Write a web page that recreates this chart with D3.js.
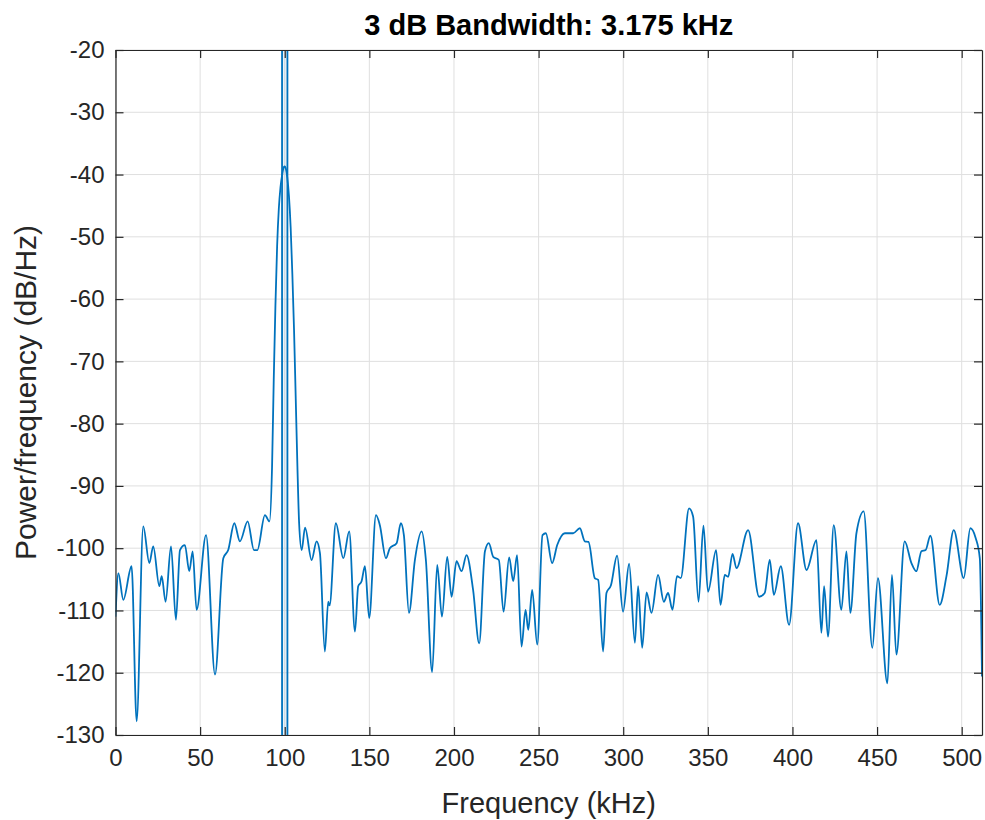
<!DOCTYPE html>
<html>
<head>
<meta charset="utf-8">
<script src="https://cdn.jsdelivr.net/npm/d3@7"></script>
<style>
  body { margin: 0; background: #fff; }
  #dataviz { width: 985px; height: 820px; }
  text { font-family: "Liberation Sans", Arial, Helvetica, sans-serif; fill: #262626; }
</style>
</head>
<body>
<div id="dataviz"></div>
<script>
// PSD estimate (kHz, dB/Hz)
var freqKHz = [
  0, 1.7, 4.6, 9.5, 12.5, 16.4, 20.0, 22.3, 25.9, 27.3, 29.6, 32.8, 35.7, 38.1, 41.0, 43.6, 45.6, 47.9,
  53.5, 58.8, 63.7, 66.6, 70.2, 73.5, 78.1, 81.8, 83.8, 88.3, 91.0,
  92.5, 93.5, 94.5, 95.5, 96.5, 97.5, 98.5, 99.5, 100.0, 100.5, 101.5, 102.5, 103.5, 104.5, 105.5,
  106.5, 107.5, 108.5, 110.0,
  112.0, 115.9, 118.8, 120.8, 123.7, 125.7, 126.5, 130.2, 134.6, 138.1, 141.5, 143.4, 145.4, 147.4,
  149.9, 153.9, 156.2, 159.8, 162.1, 166.1, 168.6, 170.4, 173.4, 176.9, 180.9, 183.4, 187.1, 190.1,
  192.9, 196.0, 198.6, 201.5, 204.5, 207.4, 211.3, 214.9, 218.3, 220.6, 223.2, 226.5, 229.3, 232.6,
  235.0, 237.3, 239.9, 242.3, 243.9, 246.2, 249.2, 252.3, 254.3, 258.0, 261.0, 265.5, 270.4, 274.4,
  277.3, 279.5, 283.2, 285.2, 288.1, 290.1, 292.7, 296.4, 299.9, 303.5, 306.9, 308.8, 311.2, 313.8,
  316.7, 320.6, 324.0, 326.5, 329.1, 331.8, 334.0, 338.9, 341.3, 344.5, 347.4, 350.1, 354.9, 357.5,
  360.0, 362.0, 364.6, 366.9, 373.8, 380.3, 383.6, 386.6, 389.0, 393.1, 398.0, 403.3, 408.3, 414.2,
  417.1, 418.7, 421.0, 424.4, 428.9, 431.9, 434.2, 437.8, 442.1, 447.2, 450.5, 456.1, 458.8, 461.4,
  466.3, 470.3, 473.2, 476.2, 478.7, 481.5, 487.0, 491.0, 495.3, 501.2, 505.1, 508.3, 510.7, 512.0
];
var powerDb = [
  -111, -104.0, -108.3, -102.9, -127.8, -96.5, -102.4, -99.7, -106.1, -104.5, -108.6, -99.7, -111.5, -100.3, -99.5, -103.7, -100.5, -109.9,
  -97.9, -120.3, -101.6, -100.3, -96.0, -98.9, -95.7, -100.3, -100.3, -94.7, -95.7,
  -87, -73, -61, -51.5, -45.5, -42.0, -40.0, -38.8, -38.7, -38.9, -40.5, -43.5, -48.5, -56, -65,
  -76, -87, -96, -100.3,
  -96.7, -101.9, -98.9, -100.8, -116.6, -108.6, -109.2, -96.0, -101.6, -97.3, -113.4, -106.1, -105.3, -102.9,
  -111.2, -94.7, -96.3, -101.6, -100.0, -99.2, -96.0, -97.9, -110.4, -101.9, -97.3, -101.9, -119.9, -102.7,
  -111.0, -101.4, -107.8, -102.1, -103.7, -101.1, -106.7, -115.3, -100.5, -99.2, -101.4, -101.9, -110.2, -101.5,
  -105.3, -101.1, -115.8, -109.9, -113.1, -106.7, -115.5, -97.9, -97.6, -102.4, -99.5, -97.6, -97.6, -96.8,
  -98.9, -99.0, -104.8, -105.1, -116.6, -107.2, -106.0, -101.2, -110.2, -102.5, -115.2, -106.1, -116.0, -107.1,
  -110.4, -104.3, -108.6, -107.2, -109.9, -104.5, -104.8, -93.6, -94.9, -108.6, -96.4, -107.0, -100.3, -109.1,
  -104.3, -104.6, -100.9, -103.2, -97.1, -107.8, -107.2, -101.9, -107.5, -102.9, -112.3, -96.0, -103.5, -98.7,
  -113.6, -106.1, -114.2, -96.3, -109.9, -100.5, -110.4, -97.6, -94.1, -116.0, -104.8, -121.7, -104.3, -117.1,
  -98.9, -102.4, -103.7, -100.5, -100.3, -98.0, -109.1, -104.5, -97.1, -104.8, -96.8, -98.4, -101.6, -120.6
];

// 3 dB band edges
var bandEdges = [98.4125, 101.5875];
var bandwidthKHz = 3.175;

var xTicks = d3.range(0, 501, 50);
var yTicks = d3.range(-130, -19, 10);

var fullWidth = 985;
var fullHeight = 820;
var margin = {top: 50, right: 3, bottom: 85, left: 115.5};
var width = fullWidth - margin.left - margin.right;
var height = fullHeight - margin.top - margin.bottom;

var svg = d3.select("#dataviz")
  .append("svg")
    .attr("width", fullWidth)
    .attr("height", fullHeight)
  .append("g")
    .attr("transform", "translate(" + margin.left + "," + margin.top + ")");

var x = d3.scaleLinear().domain([0, 512]).range([0, width]);
var y = d3.scaleLinear().domain([-130, -20]).range([height, 0]);

svg.append("defs").append("clipPath")
    .attr("id", "plotClip")
  .append("rect")
    .attr("width", width)
    .attr("height", height);

// grid
svg.append("g")
  .selectAll("line")
  .data(xTicks)
  .enter()
  .append("line")
    .attr("x1", function(d){ return x(d); })
    .attr("x2", function(d){ return x(d); })
    .attr("y1", 0)
    .attr("y2", height)
    .attr("stroke", "#dfdfdf")
    .attr("stroke-width", 1);

svg.append("g")
  .selectAll("line")
  .data(yTicks)
  .enter()
  .append("line")
    .attr("x1", 0)
    .attr("x2", width)
    .attr("y1", function(d){ return y(d); })
    .attr("y2", function(d){ return y(d); })
    .attr("stroke", "#dfdfdf")
    .attr("stroke-width", 1);

// shaded bandwidth region
svg.append("rect")
  .attr("x", x(bandEdges[0]))
  .attr("y", 0)
  .attr("width", x(bandEdges[1]) - x(bandEdges[0]))
  .attr("height", height)
  .attr("fill", "#0072bd")
  .attr("fill-opacity", 0.08);

// PSD line
var psd = freqKHz.map(function(f, i){ return {f: f, p: powerDb[i]}; });

var line = d3.line()
  .x(function(d){ return x(d.f); })
  .y(function(d){ return y(d.p); })
  .curve(d3.curveMonotoneX);

svg.append("path")
  .datum(psd)
  .attr("clip-path", "url(#plotClip)")
  .attr("fill", "none")
  .attr("stroke", "#0072bd")
  .attr("stroke-width", 1.8)
  .attr("stroke-linejoin", "round")
  .attr("d", line);

// band edge lines
svg.append("g")
  .selectAll("line")
  .data(bandEdges)
  .enter()
  .append("line")
    .attr("x1", function(d){ return x(d); })
    .attr("x2", function(d){ return x(d); })
    .attr("y1", 0)
    .attr("y2", height)
    .attr("stroke", "#0072bd")
    .attr("stroke-width", 1.8);

// axes (ticks point inwards, box on); plain hyphen minus like the original
var fmt = function(d){ return String(d); };
var tickLen = 8;
var xAxis = svg.append("g")
  .attr("transform", "translate(0," + height + ")")
  .call(d3.axisBottom(x).tickValues(xTicks).tickFormat(fmt).tickSizeInner(-tickLen).tickSizeOuter(0).tickPadding(14));
var yAxis = svg.append("g")
  .call(d3.axisLeft(y).tickValues(yTicks).tickFormat(fmt).tickSizeInner(-tickLen).tickSizeOuter(0).tickPadding(11));
var xTop = svg.append("g")
  .call(d3.axisTop(x).tickValues(xTicks).tickSizeInner(-tickLen).tickSizeOuter(0).tickFormat(""));
var yRight = svg.append("g")
  .attr("transform", "translate(" + width + ",0)")
  .call(d3.axisRight(y).tickValues(yTicks).tickSizeInner(-tickLen).tickSizeOuter(0).tickFormat(""));

[xAxis, yAxis, xTop, yRight].forEach(function(a){
  a.select(".domain").attr("stroke", "#262626").attr("stroke-width", 1.2);
  a.selectAll(".tick line").attr("stroke", "#262626").attr("stroke-width", 1.2);
  a.selectAll(".tick text")
    .attr("fill", "#262626")
    .style("font-size", "24px")
    .style("font-family", "'Liberation Sans', Arial, sans-serif");
});

// title
svg.append("text")
  .attr("x", width/2)
  .attr("y", -15)
  .attr("text-anchor", "middle")
  .style("font-size", "29px")
  .style("font-weight", "bold")
  .style("fill", "#000")
  .text("3 dB Bandwidth: " + bandwidthKHz.toFixed(3) + " kHz");

// x axis label
svg.append("text")
  .attr("x", width/2)
  .attr("y", height + 78)
  .attr("text-anchor", "middle")
  .style("font-size", "29px")
  .text("Frequency (kHz)");

// y axis label
svg.append("text")
  .attr("transform", "translate(" + (-80) + "," + (height/2) + ") rotate(-90)")
  .attr("text-anchor", "middle")
  .style("font-size", "30px")
  .text("Power/frequency (dB/Hz)");
</script>
</body>
</html>
